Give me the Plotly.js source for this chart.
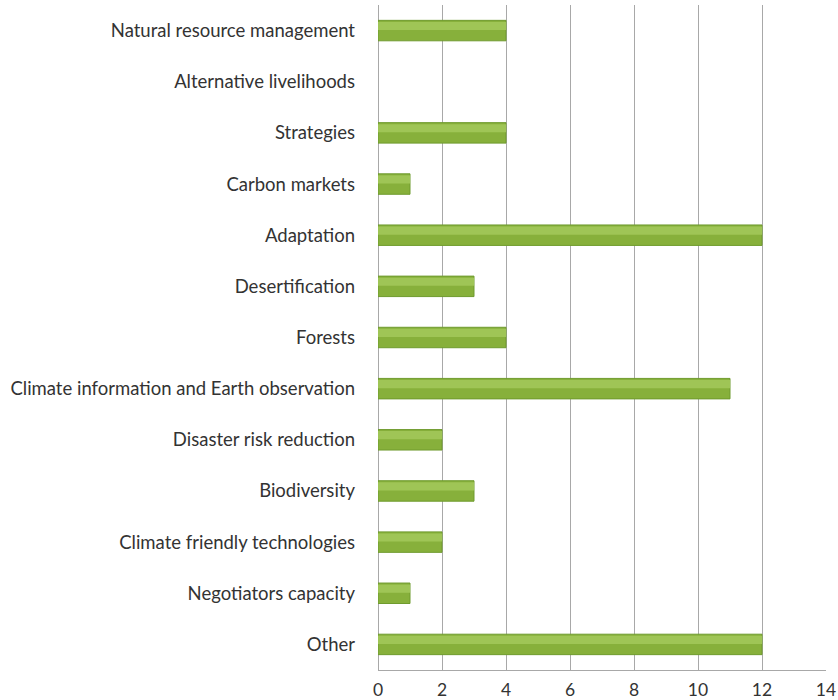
<!DOCTYPE html>
<html><head><meta charset="utf-8">
<script src="https://cdn.plot.ly/plotly-3.0.1.min.js"></script>
<style>body{margin:0;background:#fff}#chart{width:838px;height:700px}</style>
</head><body><div id="chart"></div>
<script>
const categories = ["Natural resource management","Alternative livelihoods","Strategies","Carbon markets","Adaptation","Desertification","Forests","Climate information and Earth observation","Disaster risk reduction","Biodiversity","Climate friendly technologies","Negotiators capacity","Other"];
const values = [4,0,4,1,12,3,4,11,2,3,2,1,12];
const xTicks = [0,2,4,6,8,10,12,14];

const traces = [{
  type:'bar', orientation:'h', y:categories, x:values,
  marker:{color:'#87b03b', line:{color:'#6f9b2e', width:values.map(v => v > 0 ? 1 : 0)}},
  width:0.4, hoverinfo:'x+y'
},{
  type:'bar', orientation:'h', y:categories, x:values,
  marker:{color:'#9fc556', line:{width:0}},
  width:0.16, offset:-0.17, hoverinfo:'skip'
}];
const layout = {
  width:838, height:700,
  margin:{l:378, r:12, t:5, b:30},
  paper_bgcolor:'#fff', plot_bgcolor:'#fff',
  font:{family:'Lato, "Open Sans", sans-serif', size:18.5, color:'#333'},
  showlegend:false,
  barmode:'overlay',
  xaxis:{range:[0,14], tickvals:xTicks, showgrid:true, gridcolor:'#a8a8a8', gridwidth:1,
    showline:true, linecolor:'#a8a8a8', zeroline:true, zerolinecolor:'#a8a8a8', ticks:'', ticklabelstandoff:4,
    tickfont:{size:17.5}, fixedrange:true},
  yaxis:{autorange:'reversed', showgrid:false, ticks:'', ticklabelstandoff:22, showline:false, fixedrange:true},
  bargap:0.6
};
Plotly.newPlot('chart', traces, layout, {displayModeBar:false, staticPlot:true});
</script></body></html>
